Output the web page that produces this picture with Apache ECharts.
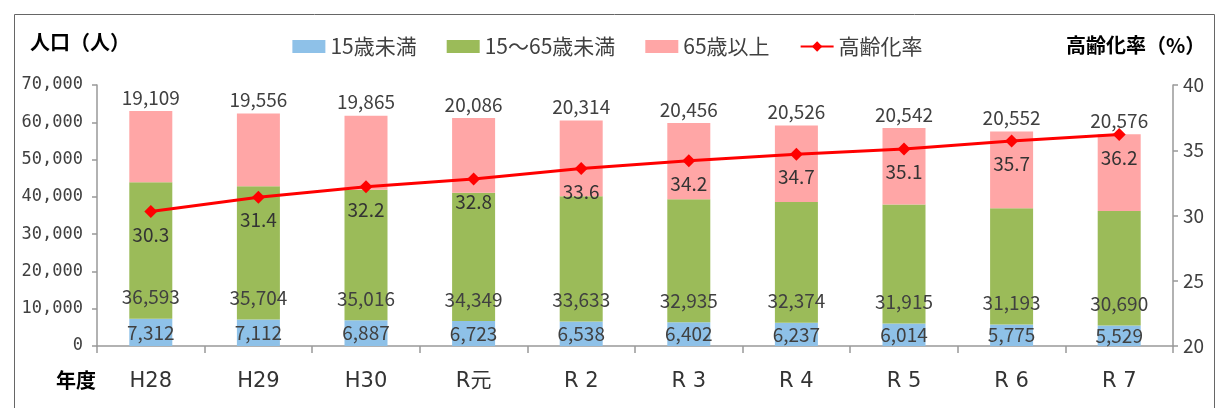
<!DOCTYPE html>
<html>
<head>
<meta charset="utf-8">
<script src="https://cdn.jsdelivr.net/npm/echarts@6/dist/echarts.min.js"></script>
<style>
  html, body { margin: 0; padding: 0; background: #fff; }
  #main { width: 1215px; height: 408px; }
</style>
</head>
<body>
<div id="main"></div>
<script>
var years = ['H28', 'H29', 'H30', 'R元', 'R 2', 'R 3', 'R 4', 'R 5', 'R 6', 'R 7'];
var under15 = [7312, 7112, 6887, 6723, 6538, 6402, 6237, 6014, 5775, 5529];
var age15to64 = [36593, 35704, 35016, 34349, 33633, 32935, 32374, 31915, 31193, 30690];
var over65 = [19109, 19556, 19865, 20086, 20314, 20456, 20526, 20542, 20552, 20576];
var agingRate = [30.3, 31.4, 32.2, 32.8, 33.6, 34.2, 34.7, 35.1, 35.7, 36.2];

var FONT = '"Noto Sans CJK JP", "Noto Sans", sans-serif';
var TXT = '#404040';

function comma(v) {
    return String(v).replace(/\B(?=(\d{3})+(?!\d))/g, ',');
}

var myChart = echarts.init(document.getElementById('main'));

var barLabel = function (pos, dist) {
    return {
        show: true,
        position: pos,
        distance: dist,
        color: TXT,
        fontSize: 19,
        fontFamily: FONT,
        formatter: function (p) { return comma(p.value); }
    };
};

option = {
    backgroundColor: '#fff',
    textStyle: { fontFamily: FONT },
    animation: false,
    grid: { left: 97, right: 42, top: 85, bottom: 62 },
    legend: {
        top: 31,
        left: 'center',
        itemWidth: 33,
        itemHeight: 13,
        itemGap: 30,
        textStyle: { color: TXT, fontSize: 21, fontFamily: FONT },
        data: [
            { name: '15歳未満', icon: 'rect' },
            { name: '15～65歳未満', icon: 'rect' },
            { name: '65歳以上', icon: 'rect' },
            { name: '高齢化率' }
        ]
    },
    graphic: [
        {
            type: 'rect', left: 12, top: 12, silent: true,
            shape: { width: 1200, height: 410 },
            style: { fill: 'none', stroke: '#666', lineWidth: 1 }
        },
        {
            type: 'text', left: 30, top: 32,
            style: { text: '人口（人）', fill: '#000', font: 'bold 20px ' + FONT }
        },
        {
            type: 'text', left: 1066, top: 35,
            style: { text: '高齢化率（%）', fill: '#000', font: 'bold 20px ' + FONT }
        },
        {
            type: 'text', left: 56, top: 370,
            style: { text: '年度', fill: '#000', font: 'bold 20px ' + FONT }
        }
    ],
    xAxis: {
        type: 'category',
        data: years,
        axisLine: { lineStyle: { color: '#999', width: 1.5 } },
        axisTick: { show: true, length: 7, lineStyle: { color: '#999', width: 1.5 } },
        axisLabel: {
            color: '#333', fontSize: 21, margin: 25,
            fontFamily: '"DejaVu Sans", "Noto Sans CJK JP", sans-serif'
        }
    },
    yAxis: [
        {
            type: 'value',
            min: 0,
            max: 70000,
            interval: 10000,
            splitLine: { show: false },
            axisLine: { show: true, lineStyle: { color: '#999', width: 1.5 } },
            axisTick: { show: true, length: 5, lineStyle: { color: '#999', width: 1.5 } },
            axisLabel: {
                color: TXT, fontSize: 17, margin: 14,
                fontFamily: '"DejaVu Sans Mono", monospace',
                formatter: function (v) { return comma(v); }
            }
        },
        {
            type: 'value',
            min: 20,
            max: 40,
            interval: 5,
            splitLine: { show: false },
            axisLine: { show: true, lineStyle: { color: '#999', width: 1.5 } },
            axisTick: { show: true, length: 5, lineStyle: { color: '#999', width: 1.5 } },
            axisLabel: { color: TXT, fontSize: 19, margin: 10, fontFamily: FONT }
        }
    ],
    series: [
        {
            name: '15歳未満',
            type: 'bar',
            stack: 'pop',
            barWidth: 43,
            data: under15,
            itemStyle: { color: '#8ec1e8' },
            label: barLabel('inside', 0)
        },
        {
            name: '15～65歳未満',
            type: 'bar',
            stack: 'pop',
            barWidth: 43,
            data: age15to64,
            itemStyle: { color: '#9bbb59' },
            label: barLabel('insideBottom', 12)
        },
        {
            name: '65歳以上',
            type: 'bar',
            stack: 'pop',
            barWidth: 43,
            data: over65,
            itemStyle: { color: '#ffa6a6' },
            label: barLabel('top', 4)
        },
        {
            name: '高齢化率',
            type: 'line',
            yAxisIndex: 1,
            data: agingRate,
            symbol: 'diamond',
            symbolSize: 13,
            lineStyle: { color: '#ff0000', width: 3 },
            itemStyle: { color: '#ff0000' },
            label: {
                show: true,
                position: 'bottom',
                distance: 7,
                color: '#333',
                fontSize: 19,
                fontFamily: FONT,
                formatter: function (p) { return p.value.toFixed(1); }
            },
            z: 5
        }
    ]
};

myChart.setOption(option);
</script>
</body>
</html>
